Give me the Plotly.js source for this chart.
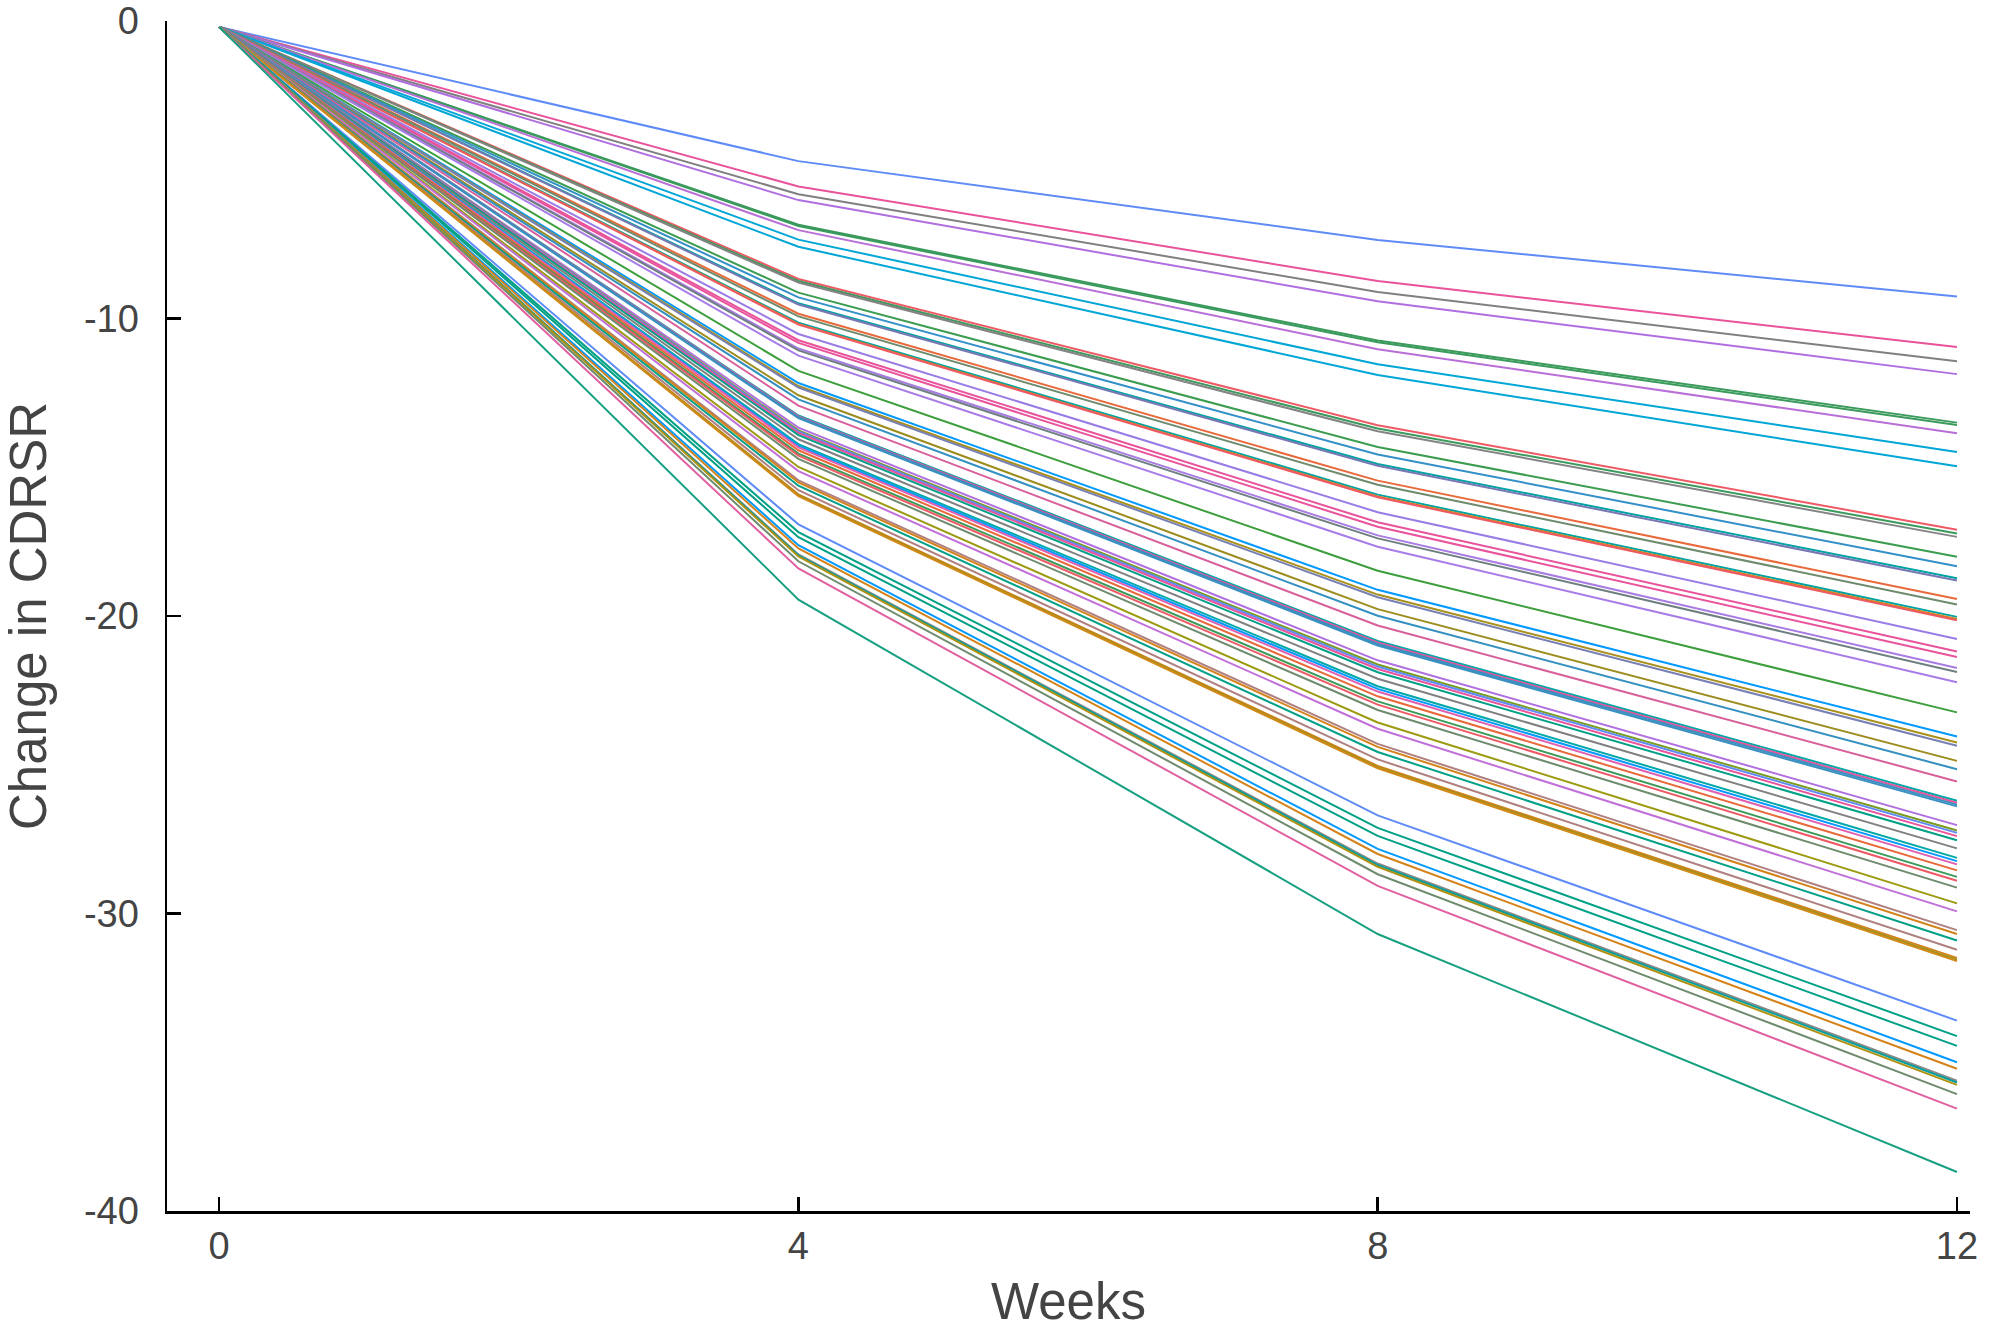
<!DOCTYPE html>
<html>
<head>
<meta charset="utf-8">
<script src="https://cdn.plot.ly/plotly-3.0.1.min.js"></script>
<style>html,body{margin:0;padding:0;background:#fff;}#chart{width:2010px;height:1330px;}</style>
</head>
<body>
<div id="chart"></div>
<script>
// Time points (weeks)
var weeks = [0, 4, 8, 12];
var xTickLabels = ["0", "4", "8", "12"];
var yTickValues = [0, -10, -20, -30, -40];
var yTickLabels = ["0", "-10", "-20", "-30", "-40"];

// Per-subject change in CDRSR at each visit
var wk0 = [-0.2,-0.2,-0.2,-0.2,-0.2,-0.2,-0.2,-0.2,-0.2,-0.2,-0.2,-0.2,-0.2,-0.2,-0.2,-0.2,-0.2,-0.2,-0.2,-0.2,-0.2,-0.2,-0.2,-0.2,-0.2,-0.2,-0.2,-0.2,-0.2,-0.2,-0.2,-0.2,-0.2,-0.2,-0.2,-0.2,-0.2,-0.2,-0.2,-0.2,-0.2,-0.2,-0.2,-0.2,-0.2,-0.2,-0.2,-0.2,-0.2,-0.2,-0.2,-0.2,-0.2,-0.2,-0.2,-0.2,-0.2,-0.2,-0.2,-0.2,-0.2,-0.2,-0.2,-0.2,-0.2,-0.2,-0.2,-0.2,-0.2,-0.2,-0.2];
var wk4 = [-4.71,-5.56,-5.82,-6.02,-6.85,-6.89,-7.03,-7.35,-7.59,-8.67,-8.74,-8.79,-9.13,-9.29,-9.49,-9.53,-9.84,-9.93,-10.14,-10.18,-10.20,-10.52,-10.73,-10.82,-11.01,-11.07,-11.25,-11.76,-12.17,-12.27,-12.32,-12.58,-12.72,-12.93,-13.26,-13.29,-13.32,-13.35,-13.67,-13.76,-13.80,-13.85,-13.92,-14.06,-14.22,-14.28,-14.33,-14.43,-14.54,-14.61,-14.72,-14.99,-15.13,-15.44,-15.51,-15.62,-15.77,-15.91,-15.94,-15.97,-16.92,-17.18,-17.35,-17.62,-17.73,-17.93,-17.96,-18.00,-18.16,-18.40,-19.45];
var wk8 = [-7.36,-8.74,-9.11,-9.42,-10.74,-10.80,-11.03,-11.54,-11.90,-13.59,-13.70,-13.79,-14.32,-14.57,-14.89,-14.95,-15.45,-15.59,-15.92,-15.98,-16.01,-16.51,-16.85,-17.00,-17.29,-17.39,-17.67,-18.48,-19.12,-19.28,-19.37,-19.77,-19.99,-20.32,-20.84,-20.89,-20.94,-20.99,-21.49,-21.63,-21.70,-21.78,-21.89,-22.11,-22.36,-22.45,-22.54,-22.70,-22.87,-22.98,-23.16,-23.58,-23.79,-24.30,-24.40,-24.57,-24.82,-25.04,-25.08,-25.12,-26.70,-27.12,-27.39,-27.83,-28.00,-28.32,-28.37,-28.43,-28.68,-29.07,-30.69];
var wk12 = [-9.26,-10.96,-11.44,-11.87,-13.50,-13.58,-13.86,-14.49,-14.97,-17.10,-17.23,-17.34,-18.01,-18.33,-18.73,-18.81,-19.43,-19.61,-20.03,-20.10,-20.14,-20.77,-21.19,-21.38,-21.75,-21.88,-22.23,-23.24,-24.05,-24.25,-24.36,-24.87,-25.15,-25.56,-26.21,-26.28,-26.34,-26.40,-27.03,-27.21,-27.29,-27.40,-27.54,-27.81,-28.13,-28.24,-28.35,-28.55,-28.77,-28.90,-29.13,-29.66,-29.93,-30.56,-30.69,-30.91,-31.22,-31.49,-31.55,-31.60,-33.60,-34.12,-34.45,-35.00,-35.22,-35.62,-35.68,-35.76,-36.07,-36.56,-38.69];

// Line colours, one per subject
var lineColors = ["#5F8BF7","#E8539B","#808080","#B06FE0","#3A9A5C","#3A9A5C","#B86FD8","#00A6D6","#00A6D6","#EE5A64","#3A9A5C","#848484","#3C9C50","#3390C8","#00A3A3","#7A78B4","#E8693A","#6E8B6E","#00A3A3","#D4821A","#EE5A64","#9A7CE6","#E8539B","#E8539B","#A87CE4","#6F7F80","#A87CE8","#3C9E3C","#0099FF","#A8901A","#7880B4","#9C8C1E","#3390C0","#D8609A","#00A8A8","#E8539B","#3A90C0","#3A90C0","#B070E0","#7A9A20","#5F8BF7","#E8539B","#00A087","#808080","#00A8A8","#0099FF","#E060B0","#E8693A","#3A9A5A","#EE5A64","#6E8B6E","#9C9A10","#C070D8","#B08080","#D4821A","#00A087","#B08080","#D4821A","#A0901A","#D08A1A","#5F8BF7","#00A087","#00A087","#0099FF","#D4821A","#8E8A8A","#00A0A0","#B09010","#6E8B6E","#E060A0","#17A080"];

var traces = [];
for (var i = 0; i < wk12.length; i++) {
  traces.push({
    type: "scatter",
    mode: "lines",
    x: weeks,
    y: [wk0[i], wk4[i], wk8[i], wk12[i]],
    line: {color: lineColors[i], width: 2},
    hoverinfo: "skip",
    showlegend: false,
    cliponaxis: false
  });
}

var fontFam = "Liberation Sans, Arial, Helvetica, sans-serif";
var layout = {
  width: 2010,
  height: 1330,
  margin: {l: 167, r: 40, t: 21, b: 119, pad: 0},
  paper_bgcolor: "#ffffff",
  plot_bgcolor: "#ffffff",
  showlegend: false,
  font: {family: fontFam, color: "#444444"},
  xaxis: {
    range: [-0.36, 12.09],
    tickmode: "array",
    tickvals: weeks,
    ticktext: xTickLabels,
    ticks: "inside",
    ticklen: 14,
    tickwidth: 2.5,
    tickcolor: "#000000",
    showline: true,
    linecolor: "#000000",
    linewidth: 2.5,
    showgrid: false,
    zeroline: false,
    tickfont: {family: fontFam, size: 38, color: "#444444"},
    ticklabelstandoff: 0,
    title: {text: "Weeks", font: {family: fontFam, size: 51, color: "#444444"}, standoff: 41},
    automargin: false
  },
  yaxis: {
    range: [-40, 0],
    tickmode: "array",
    tickvals: yTickValues,
    ticktext: yTickLabels,
    ticks: "inside",
    ticklen: 14,
    tickwidth: 2.5,
    tickcolor: "#000000",
    showline: true,
    linecolor: "#000000",
    linewidth: 2.5,
    showgrid: false,
    zeroline: false,
    tickfont: {family: fontFam, size: 38, color: "#444444"},
    ticklabelstandoff: 18,
    ticklabeloverflow: "allow",
    title: {text: "Change in CDRSR", font: {family: fontFam, size: 51, color: "#444444"}, standoff: 47},
    automargin: false
  }
};

Plotly.newPlot("chart", traces, layout, {displayModeBar: false, staticPlot: true});
</script>
</body>
</html>
